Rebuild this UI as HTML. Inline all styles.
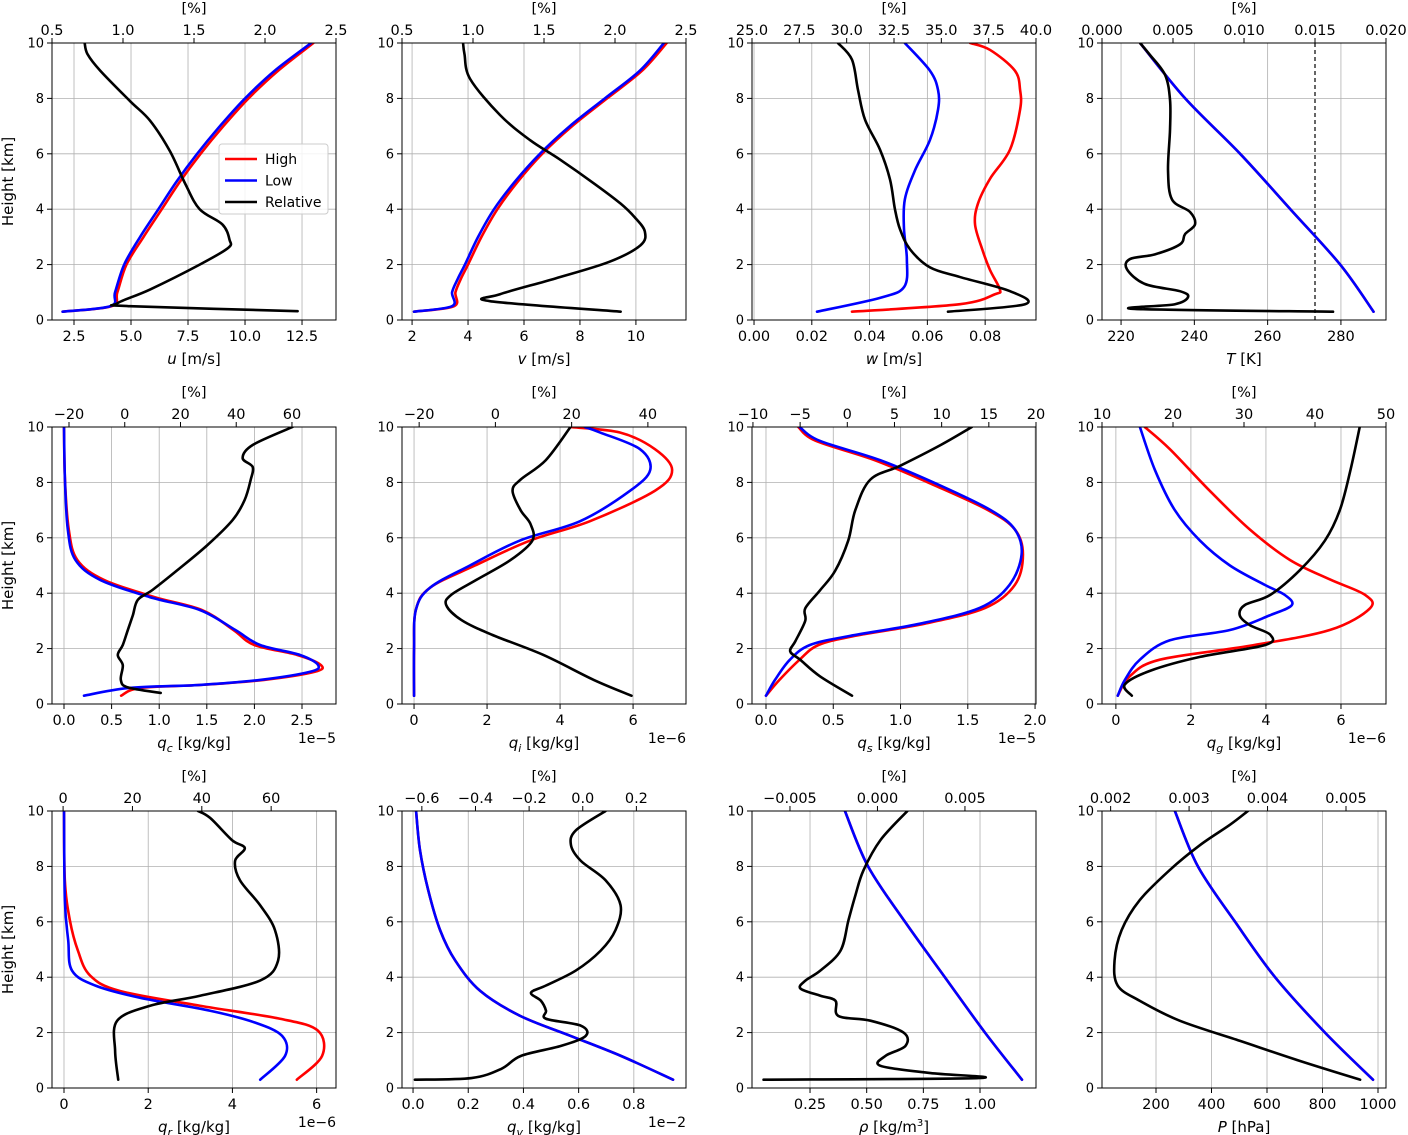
<!DOCTYPE html>
<html><head><meta charset="utf-8">
<style>
html,body{margin:0;padding:0;background:#fff;}
svg{display:block;font-family:"DejaVu Sans","Liberation Sans",sans-serif;}
</style></head>
<body>
<svg id="fig" width="1408" height="1135" viewBox="0 0 1408 1135" xmlns="http://www.w3.org/2000/svg"></svg>
<script>
// ---------- DATA (heights in km, values in axis units) ----------
const p1_hMain=[0.3,0.5,1,2,3,4,5,6,7,8,9,10];
const p1_low=[2.0,4.1,4.3,4.7,5.4,6.2,7.0,7.9,8.9,10.0,11.3,12.9];
const p1_high=[2.0,4.15,4.4,4.8,5.55,6.35,7.15,8.05,9.05,10.15,11.45,13.0];
const p1_hRel=[0.32,0.5,0.6,1.1,2,2.6,2.9,3.45,4,4.9,6.1,7.2,7.9,9,9.6,10];
const p1_rel=[2.23,1.05,0.96,1.19,1.54,1.74,1.75,1.70,1.54,1.44,1.33,1.19,1.05,0.84,0.75,0.73];

const p2_hMain=[0.3,0.5,1,1.5,2,3,4,5,6,7,8,9,10];
const p2_low=[2.07,3.43,3.43,3.64,3.89,4.36,4.93,5.68,6.57,7.64,8.89,10.14,11.0];
const p2_high=[2.07,3.5,3.55,3.75,4.0,4.48,5.05,5.78,6.65,7.72,8.97,10.22,11.1];
const p2_hRel=[0.3,0.68,0.93,1.5,2.1,2.7,3.2,3.7,4.2,4.9,5.8,6.5,7.4,8.7,9.6,10];
const p2_rel=[2.04,1.12,1.19,1.58,1.96,2.18,2.21,2.14,2.04,1.86,1.61,1.4,1.19,0.98,0.94,0.93];

const p3_hLow=[0.3,0.8,1.2,2.2,3.3,4.35,5.4,6.5,7.6,8.3,9,10];
const p3_low=[0.0218,0.0436,0.052,0.0529,0.0519,0.0522,0.0557,0.0609,0.0637,0.0637,0.0609,0.0522];
const p3_hHigh=[0.3,0.57,0.93,1.1,1.8,2.55,3.45,4.2,5.1,6.15,7.6,8.3,9,9.75,10];
const p3_high=[0.0339,0.0713,0.0834,0.0851,0.0817,0.079,0.0765,0.0775,0.0817,0.0886,0.0921,0.0921,0.0903,0.0817,0.0748];
const p3_hRel=[0.3,0.57,1.04,1.55,1.9,2.55,3.27,4,5.07,6.15,7.23,8.3,9.4,10];
const p3_rel=[35.35,39.42,38.63,35.99,34.4,33.35,32.82,32.55,32.29,31.76,30.97,30.6,30.28,29.54];

const p4_hMain=[0.3,2,4,6,8,10];
const p4_low=[288.9,279.8,266.2,252.5,237.5,225.2];
const p4_high=[288.9,279.8,266.2,252.5,237.5,225.2];
const p4_hRel=[0.3,0.4,0.57,0.83,1.04,1.3,1.83,2.2,2.37,2.73,3.1,3.45,3.9,4.35,5.4,6.87,7.95,8.85,9.57,10];
const p4_rel=[0.01627,0.00232,0.00514,0.00606,0.00549,0.00303,0.00176,0.00197,0.00373,0.00549,0.00585,0.00655,0.0062,0.00493,0.00465,0.00479,0.00479,0.00444,0.00338,0.00268];
const p4_freeze=[0.015];

const p5_hMain=[0.3,0.58,0.69,0.87,1.16,1.4,1.77,2.13,2.67,3.39,3.86,4.48,5.2,6.3,8.1,10];
const p5_low=[0.21,0.69,1.43,2.06,2.58,2.67,2.48,2.06,1.8,1.43,0.9,0.38,0.12,0.04,0.01,0];
const p5_high=[0.6,0.8,1.45,2.1,2.63,2.7,2.45,2.0,1.78,1.45,0.95,0.42,0.14,0.05,0.01,0];
const p5_hRel=[0.4,0.6,0.87,1.4,1.77,2.13,2.67,3.2,3.76,4.12,4.84,5.74,6.64,7.36,8.1,8.56,8.88,9.35,10];
const p5_rel=[12.9,1.1,-1.4,-0.7,-2.5,-0.7,1.1,2.9,4.7,10,19,29.7,38.7,43,45.2,45.9,42.3,45.9,60.2];

const p6_hMain=[0.3,2,3.4,4.2,5,5.9,6.6,7.7,8.45,9.2,9.8,10];
const p6_low=[0,0,0.05,0.44,1.53,2.9,4.55,5.92,6.47,6.19,5.1,4.68];
const p6_high=[0,0,0.05,0.44,1.67,3.18,4.82,6.6,7.07,6.6,5.64,4.27];
const p6_hRel=[0.3,0.87,1.77,2.5,3.03,3.57,3.94,4.48,5.2,5.9,6.5,7,7.7,8.1,8.8,10];
const p6_rel=[35.7,25.8,12.6,-0.9,-8.9,-12.9,-11.6,-5,4,9.7,9.2,6.6,4.5,6.6,13.2,19.7];

const p7_hMain=[0.3,0.87,1.6,2.13,2.46,2.9,3.47,4.3,5.4,6.3,7,7.9,8.8,9.5,10];
const p7_low=[0,0.067,0.178,0.327,0.625,1.145,1.59,1.81,1.9,1.85,1.67,1.29,0.85,0.4,0.25];
const p7_high=[0,0.1,0.25,0.39,0.66,1.18,1.63,1.85,1.91,1.85,1.65,1.25,0.81,0.37,0.24];
const p7_hRel=[0.3,1.0,1.6,1.9,2.27,3.0,3.45,4.1,4.8,5.9,7,8.1,8.6,9.35,10];
const p7_rel=[0.5,-2.9,-5,-6.05,-5.5,-4.46,-4.46,-2.9,-1.3,0.1,0.85,2.44,5.6,9.9,13.2];

const p8_hLow=[0.3,0.87,1.6,2.3,2.67,3.2,3.57,3.94,4.3,5,5.9,7,8.45,10];
const p8_low=[0.05,0.24,0.64,1.44,3.04,4.1,4.69,4.5,3.97,3.04,2.24,1.57,1.04,0.64];
const p8_hHigh=[0.3,1,1.6,2.1,2.67,3.45,3.94,4.5,5.2,6.3,7.7,9.2,10];
const p8_high=[0.05,0.37,1.17,3.57,5.7,6.77,6.64,5.7,4.64,3.57,2.5,1.44,0.77];
const p8_hRel=[0.3,0.7,1.2,1.7,2.13,2.5,2.85,3.2,3.57,3.94,4.84,5.9,7,8.45,10];
const p8_rel=[14.2,13.2,16.8,23.8,33,33.7,30.8,29.4,30.1,33.7,37.9,41.4,43.5,45,46.3];

const p9_hLow=[0.3,1.16,1.88,2.36,2.79,3.26,3.7,4.24,5.33,6.78,10];
const p9_low=[4.66,5.25,5.18,4.54,3.47,1.8,0.74,0.19,0.1,0.02,0];
const p9_hHigh=[0.3,1.16,2.07,2.5,2.97,3.5,4.06,4.96,6.05,7.5,10];
const p9_high=[5.53,6.13,6.03,5.13,3.23,1.33,0.62,0.33,0.14,0.02,0];
const p9_hRel=[0.3,1.34,2.43,2.97,3.33,3.88,4.6,5.7,6.6,7.5,8.2,8.66,8.95,9.75,10];
const p9_rel=[15.9,15,15.6,25.1,39.5,56.8,62,61.1,56.8,51,49.6,52.4,48.7,42.4,38.9];

const p10_hMain=[0.3,1.16,1.88,2.6,3.5,4.6,5.7,7.14,8.6,10];
const p10_low=[0.942,0.753,0.571,0.389,0.244,0.153,0.098,0.055,0.025,0.011];
const p10_high=[0.942,0.753,0.571,0.389,0.244,0.153,0.098,0.055,0.025,0.011];
const p10_hRel=[0.3,0.36,0.69,1.16,1.52,1.88,2.25,2.5,2.79,3.15,3.44,3.7,4.24,4.96,5.7,6.6,7.5,8.2,8.77,9.3,10];
const p10_rel=[-0.626,-0.415,-0.304,-0.230,-0.081,0.011,-0.007,-0.137,-0.137,-0.156,-0.193,-0.137,-0.026,0.067,0.122,0.141,0.085,-0.007,-0.044,-0.026,0.085];

const p11_hMain=[0.3,2,4,6,8,10];
const p11_low=[1.185,1.022,0.845,0.669,0.506,0.404];
const p11_high=[1.185,1.022,0.845,0.669,0.506,0.404];
const p11_hRel=[0.3,0.36,0.54,0.8,1.16,1.52,2.0,2.43,2.6,3.15,3.33,3.59,3.88,4.24,4.96,6.05,6.96,7.86,8.95,10];
const p11_rel=[-0.00651,0.00577,0.00303,0.00017,0.00046,0.0016,0.00149,-0.0004,-0.00223,-0.0024,-0.00326,-0.0044,-0.00411,-0.00326,-0.00211,-0.00166,-0.00126,-0.0008,0.00017,0.00171];

const p12_hMain=[0.3,2,4,6,8,10];
const p12_low=[982,809,629,485,351,268];
const p12_high=[982,809,629,485,351,268];
const p12_hRel=[0.3,0.98,1.7,2.43,3.15,3.7,4.6,5.7,6.78,7.86,8.77,9.5,10];
const p12_rel=[0.00518,0.00441,0.00365,0.00288,0.00237,0.00209,0.00205,0.00214,0.00237,0.00275,0.00314,0.00352,0.00375];

const yTicks=[0,2,4,6,8,10];
const t1b=[2.5,5,7.5,10,12.5], t1t=[0.5,1,1.5,2,2.5];
const t2b=[2,4,6,8,10], t2t=[0.5,1,1.5,2,2.5];
const t3b=[0,0.02,0.04,0.06,0.08], t3t=[25,27.5,30,32.5,35,37.5,40];
const t4b=[220,240,260,280], t4t=[0,0.005,0.01,0.015,0.02];
const t5b=[0,0.5,1,1.5,2,2.5], t5t=[-20,0,20,40,60];
const t6b=[0,2,4,6], t6t=[-20,0,20,40];
const t7b=[0,0.5,1,1.5,2], t7t=[-10,-5,0,5,10,15,20];
const t8b=[0,2,4,6], t8t=[10,20,30,40,50];
const t9b=[0,2,4,6], t9t=[0,20,40,60];
const t10b=[0,0.2,0.4,0.6,0.8], t10t=[-0.6,-0.4,-0.2,0,0.2];
const t11b=[0.25,0.5,0.75,1], t11t=[-0.005,0,0.005];
const t12b=[200,400,600,800,1000], t12t=[0.002,0.003,0.004,0.005];

// ---------- RENDERING ----------
const NS="http://www.w3.org/2000/svg";
const svg=document.getElementById('fig');
function mk(tag,attrs,parent){const e=document.createElementNS(NS,tag);for(const k in attrs)e.setAttribute(k,attrs[k]);(parent||svg).appendChild(e);return e;}
function fmt(v,d){let s=v.toFixed(d);if(Math.abs(v)<1e-12)s=(0).toFixed(d);return s.replace('-','\u2212');}
function smooth(pts){
  let d='M'+pts[0][0].toFixed(2)+','+pts[0][1].toFixed(2);
  for(let i=0;i<pts.length-1;i++){
    const p0=pts[i-1]||pts[i],p1=pts[i],p2=pts[i+1],p3=pts[i+2]||p2;
    const c1=[p1[0]+(p2[0]-p0[0])/6,p1[1]+(p2[1]-p0[1])/6];
    const c2=[p2[0]-(p3[0]-p1[0])/6,p2[1]-(p3[1]-p1[1])/6];
    d+=' C'+c1[0].toFixed(2)+','+c1[1].toFixed(2)+' '+c2[0].toFixed(2)+','+c2[1].toFixed(2)+' '+p2[0].toFixed(2)+','+p2[1].toFixed(2);
  }
  return d;
}
const colX=[52,402,752,1102], rowY=[43,427,811], W=284, H=277;

function panel(c){
  const L=colX[c.col], T=rowY[c.row], B=T+H, R=L+W;
  const g=mk('g',{});
  
  
  const xb=v=>L+(v-c.xb[0])/(c.xb[1]-c.xb[0])*W;
  const xt=v=>L+(v-c.xt[0])/(c.xt[1]-c.xt[0])*W;
  const y=h=>B-h/10*H;
  c.bt.forEach(v=>{const l=mk('line',{x1:xb(v),x2:xb(v),y1:T,y2:B,stroke:'#b0b0b0','stroke-width':0.8},g);
    
    });
  yTicks.forEach(v=>{const l=mk('line',{x1:L,x2:R,y1:y(v),y2:y(v),stroke:'#b0b0b0','stroke-width':0.8},g);
    
    });
  const cp=mk('clipPath',{id:'clip'+c.name},g);mk('rect',{x:L,y:T,width:W,height:H},cp);
  const sg=mk('g',{'clip-path':'url(#clip'+c.name+')'},g);
  if(c.dashed){c.dashed.forEach(v=>{const l=mk('line',{x1:xt(v),x2:xt(v),y1:T,y2:B,stroke:'#000','stroke-width':1.2,'stroke-dasharray':'4,3'},sg);
    
    });}
  c.series.forEach(s=>{
    const fx=s.axis==='t'?xt:xb;
    const pts=s.h.map((h,i)=>[fx(s.v[i]),y(h)]);
    const p=mk('path',{d:smooth(pts),fill:'none',stroke:s.color,'stroke-width':2.6,'stroke-linejoin':'round','stroke-linecap':'round'},sg);
    
    
  });
  const fr=mk('rect',{x:L,y:T,width:W,height:H,fill:'none',stroke:'#000','stroke-width':1},g);
  
  
  c.bt.forEach(v=>{mk('line',{x1:xb(v),x2:xb(v),y1:B,y2:B+5,stroke:'#000','stroke-width':1},g);
    const t=mk('text',{x:xb(v),y:B+21,'text-anchor':'middle','font-size':14.5},g);t.textContent=fmt(v,c.bd);
    
    });
  c.tt.forEach(v=>{mk('line',{x1:xt(v),x2:xt(v),y1:T,y2:T-5,stroke:'#000','stroke-width':1},g);
    const t=mk('text',{x:xt(v),y:T-8,'text-anchor':'middle','font-size':14.5},g);t.textContent=fmt(v,c.td);
    
    });
  yTicks.forEach(v=>{mk('line',{x1:L,x2:L-5,y1:y(v),y2:y(v),stroke:'#000','stroke-width':1},g);
    const t=mk('text',{x:L-8,y:y(v)+4.5,'text-anchor':'end','font-size':13},g);t.textContent=v;
    
    });
  const xl=mk('text',{x:(L+R)/2,y:B+44,'text-anchor':'middle','font-size':15},g);xl.innerHTML=c.xlabel;
  
  
  const tl=mk('text',{x:(L+R)/2,y:T-30,'text-anchor':'middle','font-size':14.5},g);tl.textContent='[%]';
  
  
  if(c.offset){const o=mk('text',{x:R,y:B+39,'text-anchor':'end','font-size':14},g);o.textContent=c.offset;
    
    }
  if(c.col===0){const yl=mk('text',{x:0,y:0,'text-anchor':'middle','font-size':15,transform:'translate(13,'+((T+B)/2)+') rotate(-90)'},g);yl.textContent='Height [km]';
    
    }
}
const it=s=>'<tspan font-style="italic">'+s+'</tspan>';
const sub=s=>'<tspan font-style="italic" font-size="11" dy="4">'+s+'</tspan><tspan dy="-4"> </tspan>';
function S(h,v,color,label,axis){return {h:h,v:v,color:color,label:label,axis:axis||'b'};}
panel({name:'u',col:0,row:0,xb:[1.535,13.99],xt:[0.5,2.5],bt:t1b,bd:1,tt:t1t,td:1,xlabel:it('u')+' [m/s]',
  series:[S(p1_hMain,p1_high,'#ff0000','high'),S(p1_hMain,p1_low,'#0000ff','low'),S(p1_hRel,p1_rel,'#000','relative','t')]});
panel({name:'v',col:1,row:0,xb:[1.64,11.79],xt:[0.5,2.5],bt:t2b,bd:0,tt:t2t,td:1,xlabel:it('v')+' [m/s]',
  series:[S(p2_hMain,p2_high,'#ff0000','high'),S(p2_hMain,p2_low,'#0000ff','low'),S(p2_hRel,p2_rel,'#000','relative','t')]});
panel({name:'w',col:2,row:0,xb:[-0.0007,0.0976],xt:[25,40],bt:t3b,bd:2,tt:t3t,td:1,xlabel:it('w')+' [m/s]',
  series:[S(p3_hHigh,p3_high,'#ff0000','high'),S(p3_hLow,p3_low,'#0000ff','low'),S(p3_hRel,p3_rel,'#000','relative','t')]});
panel({name:'T',col:3,row:0,xb:[214.8,292.3],xt:[0,0.02],bt:t4b,bd:0,tt:t4t,td:3,xlabel:it('T')+' [K]',dashed:p4_freeze,
  series:[S(p4_hMain,p4_high,'#ff0000','high'),S(p4_hMain,p4_low,'#0000ff','low'),S(p4_hRel,p4_rel,'#000','relative','t')]});
panel({name:'qc',col:0,row:1,xb:[-0.126,2.857],xt:[-26.1,75.8],bt:t5b,bd:1,tt:t5t,td:0,xlabel:it('q')+sub('c')+'[kg/kg]',offset:'1e\u22125',
  series:[S(p5_hMain,p5_high,'#ff0000','high'),S(p5_hMain,p5_low,'#0000ff','low'),S(p5_hRel,p5_rel,'#000','relative','t')]});
panel({name:'qi',col:1,row:1,xb:[-0.33,7.45],xt:[-24.5,50],bt:t6b,bd:0,tt:t6t,td:0,xlabel:it('q')+sub('i')+'[kg/kg]',offset:'1e\u22126',
  series:[S(p6_hMain,p6_high,'#ff0000','high'),S(p6_hMain,p6_low,'#0000ff','low'),S(p6_hRel,p6_rel,'#000','relative','t')]});
panel({name:'qs',col:2,row:1,xb:[-0.104,2.007],xt:[-10.1,20],bt:t7b,bd:1,tt:t7t,td:0,xlabel:it('q')+sub('s')+'[kg/kg]',offset:'1e\u22125',
  series:[S(p7_hMain,p7_high,'#ff0000','high'),S(p7_hMain,p7_low,'#0000ff','low'),S(p7_hRel,p7_rel,'#000','relative','t')]});
panel({name:'qg',col:3,row:1,xb:[-0.37,7.2],xt:[10,50],bt:t8b,bd:0,tt:t8t,td:0,xlabel:it('q')+sub('g')+'[kg/kg]',offset:'1e\u22126',
  series:[S(p8_hHigh,p8_high,'#ff0000','high'),S(p8_hLow,p8_low,'#0000ff','low'),S(p8_hRel,p8_rel,'#000','relative','t')]});
panel({name:'qr',col:0,row:2,xb:[-0.285,6.46],xt:[-3.2,78.7],bt:t9b,bd:0,tt:t9t,td:0,xlabel:it('q')+sub('r')+'[kg/kg]',offset:'1e\u22126',
  series:[S(p9_hHigh,p9_high,'#ff0000','high'),S(p9_hLow,p9_low,'#0000ff','low'),S(p9_hRel,p9_rel,'#000','relative','t')]});
panel({name:'qv',col:1,row:2,xb:[-0.04,0.989],xt:[-0.674,0.385],bt:t10b,bd:1,tt:t10t,td:1,xlabel:it('q')+sub('v')+'[kg/kg]',offset:'1e\u22122',
  series:[S(p10_hMain,p10_high,'#ff0000','high'),S(p10_hMain,p10_low,'#0000ff','low'),S(p10_hRel,p10_rel,'#000','relative','t')]});
panel({name:'rho',col:2,row:2,xb:[-0.006,1.247],xt:[-0.00717,0.00906],bt:t11b,bd:2,tt:t11t,td:3,xlabel:it('\u03c1')+' [kg/m<tspan font-size="10" dy="-6">3</tspan><tspan dy="6">]</tspan>',
  series:[S(p11_hMain,p11_high,'#ff0000','high'),S(p11_hMain,p11_low,'#0000ff','low'),S(p11_hRel,p11_rel,'#000','relative','t')]});
panel({name:'P',col:3,row:2,xb:[5.4,1028.8],xt:[0.00189,0.00551],bt:t12b,bd:0,tt:t12t,td:3,xlabel:it('P')+' [hPa]',
  series:[S(p12_hMain,p12_high,'#ff0000','high'),S(p12_hMain,p12_low,'#0000ff','low'),S(p12_hRel,p12_rel,'#000','relative','t')]});

const lg=mk('g',{});


mk('rect',{x:219,y:144,width:109,height:70,rx:3,fill:'#fff','fill-opacity':0.85,stroke:'#ccc','stroke-width':1},lg);
[['High','#ff0000'],['Low','#0000ff'],['Relative','#000']].forEach((e,i)=>{
  const yy=159+i*21.5;
  const l=mk('line',{x1:225,x2:257,y1:yy,y2:yy,stroke:e[1],'stroke-width':2.6},lg);
  
  
  const t=mk('text',{x:265,y:yy+5,'font-size':14},lg);t.textContent=e[0];
  
  
});
</script>
</body></html>
